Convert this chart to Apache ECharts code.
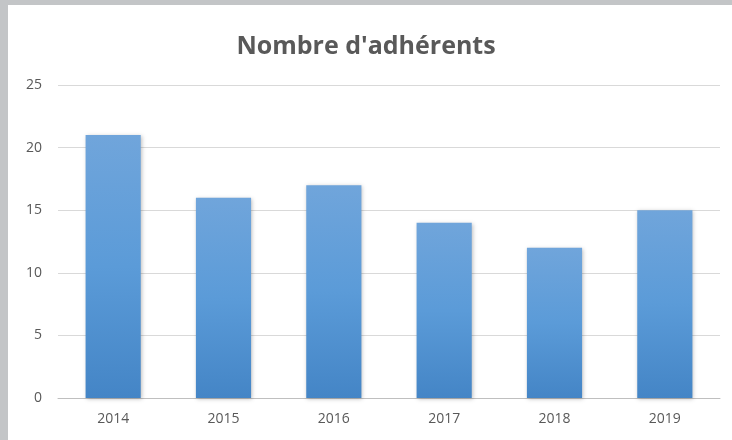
<!DOCTYPE html>
<html><head><meta charset="utf-8">
<script src="https://cdn.jsdelivr.net/npm/echarts@6/dist/echarts.min.js"></script>
<style>html,body{margin:0;padding:0;background:#c3c5c7;}#c{width:732px;height:440px;}</style>
</head><body><div id="c"></div>
<script>
const categories = ['2014','2015','2016','2017','2018','2019'];
const values = [21, 16, 17, 14, 12, 15];
const yTicks = [0, 5, 10, 15, 20, 25];
const titleText = "Nombre d'adhérents";

const chart = echarts.init(document.getElementById('c'), null, {renderer:'canvas'});
chart.setOption({
  backgroundColor: '#c3c5c7',
  animation: false,
  graphic: [{type:'rect', left:8, top:5, shape:{width:724, height:435}, style:{fill:'#ffffff'}, z:-10}],
  title: {text: titleText, left: 'center', top: 29,
    textStyle:{fontFamily:'Open Sans', fontWeight:'bold', fontSize:25, color:'#595959'}},
  grid: {left:58, right:12, top:85, bottom:42},
  xAxis: {type:'category', data: categories,
    axisLine:{lineStyle:{color:'#bfbfbf', width:1}}, axisTick:{show:false},
    axisLabel:{color:'#595959', fontFamily:'Open Sans', fontSize:14, margin:14}},
  yAxis: {type:'value', min: yTicks[0], max: yTicks[yTicks.length-1], interval:5,
    axisLine:{show:false}, axisTick:{show:false},
    splitLine:{lineStyle:{color:'#d9d9d9', width:1}},
    axisLabel:{color:'#595959', fontFamily:'Open Sans', fontSize:14, margin:16}},
  series: [{type:'bar', data: values, barWidth:'50%',
    itemStyle:{
      color: new echarts.graphic.LinearGradient(0,0,0,1,[
        {offset:0, color:'#70a5db'},{offset:0.5, color:'#5b9bd8'},{offset:1, color:'#4485c6'}]),
      shadowColor:'rgba(0,0,0,0.25)', shadowBlur:4, shadowOffsetX:1, shadowOffsetY:1
    }}]
});
</script></body></html>
